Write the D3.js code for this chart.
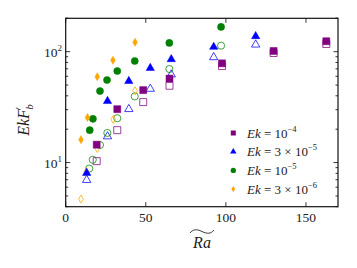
<!DOCTYPE html>
<html><head><meta charset="utf-8">
<script src="https://cdn.jsdelivr.net/npm/d3@7"></script>
<style>body{margin:0;background:#fff}svg{display:block}text{font-family:"Liberation Serif","DejaVu Serif",serif}</style>
</head><body><svg id="c" width="357" height="268"></svg>
<script>
// Ek = 1e-4 (purple squares)
const p_x = [19.35, 32.2, 48.4, 64.8, 97.6, 129.8, 162.7];
const p_filled = [14.5, 30.3, 45.0, 57.2, 78.5, 101.5, 124.2];
const p_open = [10.3, 19.6, 35.1, 49.3, 74.2, 97.3, 117.4];
// Ek = 3e-5 (blue triangles)
const b_x = [13.1, 26.1, 39.4, 52.8, 65.9, 92.4, 118.6];
const b_filled = [8.05, 35.8, 54.3, 71.2, 85.4, 110.3, 137.8];
const b_open = [6.96, 17.2, 30.3, 46.2, 62.2, 89.0, 115.7];
// Ek = 1e-5 (green circles)
const g_xf = [15.0, 17.0, 21.4, 25.8, 32.2, 43.1, 64.7, 97.0];
const g_filled = [19.6, 24.8, 44.1, 55.5, 66.9, 82.4, 119.9, 167.2];
const g_xo = [14.7, 16.9, 21.4, 26.0, 32.2, 43.1, 64.7, 97.0];
const g_open = [8.83, 10.6, 14.4, 18.5, 25.1, 39.5, 69.8, 113.3];
// Ek = 3e-6 (orange diamonds)
const o_xf = [9.55, 13.6, 19.7, 29.5, 43.3];
const o_filled = [16.1, 25.5, 59.4, 83.6, 121.6];
const o_xo = [9.55, 13.0, 19.7, 29.7, 43.3];
const o_open = [4.69, 8.3, 13.4, 24.5, 44.4];

const xTicks = [0, 50, 100, 150];
const yTicks = [10, 100];
const legendLabels = [["10","−4",""],["3 × 10","−5",""],["10","−5",""],["3 × 10","−6",""]];

const svg = d3.select("#c");
const L = 65.7, T = 18.3, R = 338, B = 206.7;
const x = d3.scaleLinear().domain([0, 170]).range([L, R]);
const y = d3.scaleLog().domain([4, 200]).range([B, T]);

const minorY = [];
for (let d = 1; d <= 100; d *= 10) for (let k = 1; k <= 9; k++) { const v = k * d; if (v >= 4 && v <= 200 && !yTicks.includes(v)) minorY.push(v); }
minorY.push(200);

// ticks
const ax = svg.append("g").attr("stroke", "#000").attr("stroke-width", 0.8);
xTicks.forEach(t => {
  ax.append("line").attr("x1", x(t)).attr("x2", x(t)).attr("y1", B).attr("y2", B - 4.5);
  ax.append("line").attr("x1", x(t)).attr("x2", x(t)).attr("y1", T).attr("y2", T + 4.5);
});
yTicks.forEach(t => {
  ax.append("line").attr("x1", L).attr("x2", L + 4.5).attr("y1", y(t)).attr("y2", y(t));
  ax.append("line").attr("x1", R).attr("x2", R - 4.5).attr("y1", y(t)).attr("y2", y(t));
});
minorY.filter(v => v <= 200).forEach(t => {
  ax.append("line").attr("x1", L).attr("x2", L + 2.5).attr("y1", y(t)).attr("y2", y(t));
  ax.append("line").attr("x1", R).attr("x2", R - 2.5).attr("y1", y(t)).attr("y2", y(t));
});

// tick labels
svg.append("g").selectAll("text").data(xTicks).join("text")
  .attr("x", d => x(d)).attr("y", 222).attr("text-anchor", "middle")
  .attr("font-size", 13.5).attr("fill", "#222").text(d => d);
const yl = svg.append("g").selectAll("text").data(yTicks).join("text")
  .attr("x", 62).attr("y", d => y(d) + 5).attr("text-anchor", "end")
  .attr("font-size", 13.5).attr("fill", "#222");
yl.append("tspan").text("10");
yl.append("tspan").attr("font-size", 9).attr("dy", -6).text(d => Math.round(Math.log10(d)));

// markers
const sq = d3.symbol(d3.symbolSquare, 49);
const tri = d3.symbol(d3.symbolTriangle, 30);
const cir = d3.symbol(d3.symbolCircle, 40);
const dia = d3.symbol(d3.symbolDiamond, 19);
const series = [
  {xs: p_x, ys: p_open, sym: sq, c: "#800080", open: true},
  {xs: b_x, ys: b_open, sym: tri, c: "#0000ff", open: true},
  {xs: g_xo, ys: g_open, sym: cir, c: "#008000", open: true},
  {xs: o_xo, ys: o_open, sym: dia, c: "#ffa500", open: true},
  {xs: p_x, ys: p_filled, sym: sq, c: "#800080", open: false},
  {xs: b_x, ys: b_filled, sym: tri, c: "#0000ff", open: false},
  {xs: g_xf, ys: g_filled, sym: cir, c: "#008000", open: false},
  {xs: o_xf, ys: o_filled, sym: dia, c: "#ffa500", open: false}
];
series.forEach(s => {
  const pts = s.xs.map((v, i) => [v, s.ys[i]]);
  svg.append("g").selectAll("path").data(pts).join("path")
    .attr("d", s.sym)
    .attr("transform", d => `translate(${x(d[0])},${y(d[1])})`)
    .attr("fill", s.open ? "#fff" : s.c)
    .attr("fill-opacity", s.open ? 0 : 1)
    .attr("stroke", s.c)
    .attr("stroke-opacity", s.open ? 0.75 : 1)
    .attr("stroke-width", s.open ? 1 : 0.5);
});

// frame
svg.append("rect").attr("x", L).attr("y", T).attr("width", R - L).attr("height", B - T)
  .attr("fill", "none").attr("stroke", "#111").attr("stroke-width", 1.2);

// legend
const legSyms = [d3.symbol(d3.symbolSquare, 25), d3.symbol(d3.symbolTriangle, 18), d3.symbol(d3.symbolCircle, 22), d3.symbol(d3.symbolDiamond, 12)];
const legCols = ["#800080", "#0000ff", "#008000", "#ffa500"];
legendLabels.forEach((lab, i) => {
  const yy = 133 + i * 18.7;
  svg.append("path").attr("d", legSyms[i]).attr("transform", `translate(233.3,${yy})`).attr("fill", legCols[i]);
  const t = svg.append("text").attr("x", 247).attr("y", yy + 4.5).attr("font-size", 13).attr("fill", "#222");
  t.append("tspan").attr("font-style", "italic").text("Ek");
  t.append("tspan").text(" = " + lab[0]);
  t.append("tspan").attr("font-size", 8.5).attr("dy", -6).text(lab[1]);
});

// axis labels
svg.append("text").attr("x", 202).attr("y", 248).attr("text-anchor", "middle")
  .attr("font-size", 16).attr("font-style", "italic").attr("fill", "#222").text("Ra");
svg.append("path").attr("d", "M190,233 C193,229 197,229 202,231.5 C207,234 211,234 214,230")
  .attr("fill", "none").attr("stroke", "#222").attr("stroke-width", 0.9);
const ylab = svg.append("text").attr("transform", "translate(29,120) rotate(-90)")
  .attr("text-anchor", "middle").attr("font-size", 16).attr("font-style", "italic").attr("fill", "#222");
ylab.append("tspan").text("EkF");
ylab.append("tspan").attr("font-size", 11).attr("dy", -6).attr("font-style", "normal").text("′");
ylab.append("tspan").attr("font-size", 11).attr("dx", -3).attr("dy", 10).text("b");
</script></body></html>
